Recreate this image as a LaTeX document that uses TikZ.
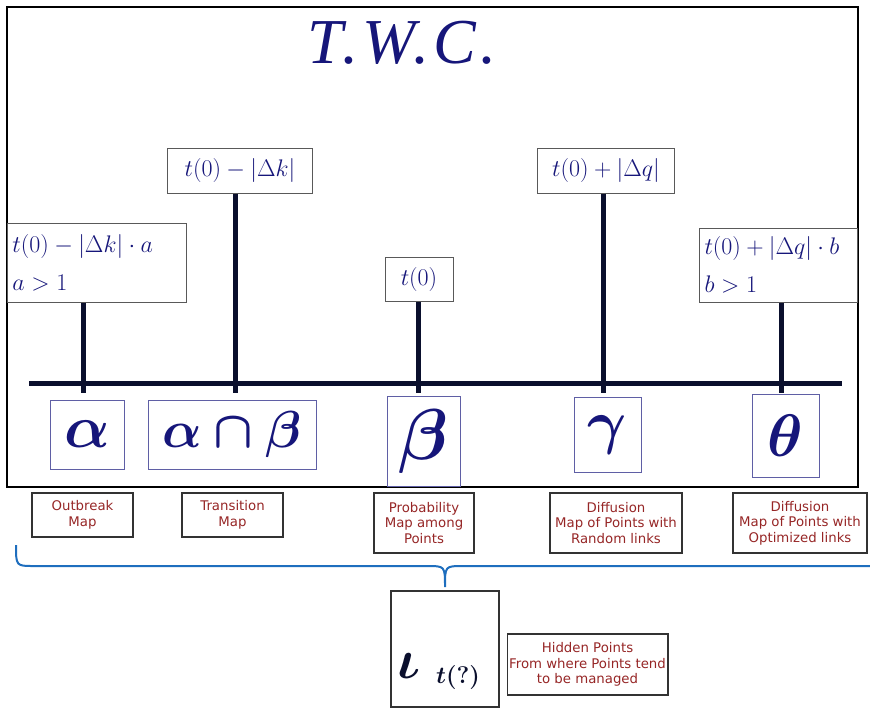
\documentclass[tikz,border=0pt]{standalone}
\usepackage{fix-cm}
\usepackage{amsmath}
\usepackage{amssymb}
\usepackage{bm}
\usepackage{xcolor}
\usepackage{fontspec}
\newfontfamily\labelfont{DejaVu Sans}
\newfontfamily\titlefont[LetterSpace=6]{Liberation Serif}

\definecolor{twcblue}{RGB}{22,22,122}
\definecolor{barblue}{RGB}{10,15,45}
\definecolor{mapred}{RGB}{150,38,38}
\definecolor{braceblue}{RGB}{30,110,190}
\definecolor{greekedge}{RGB}{95,95,165}

\tikzset{
  outerframe/.style={draw=black, line width=1.5pt},
  valbox/.style={draw=black!65, line width=1pt, fill=white, inner sep=3pt, text=twcblue, font=\fontsize{24}{30}\selectfont},
  letterbox/.style={draw=greekedge, line width=1pt, inner sep=0pt, text=twcblue},
  mapbox/.style={draw=black!80, line width=1.3pt, align=center, inner sep=2pt, text=mapred, font=\labelfont\fontsize{13.3}{15.5}\selectfont},
  stem/.style={draw=barblue, line width=5pt},
  brace/.style={draw=braceblue, line width=2pt},
}

\begin{document}
\begin{tikzpicture}[x=1pt,y=-1pt]
\useasboundingbox (0,0) rectangle (870,710);

%outer frame and title
\draw [outerframe] (7,7) rectangle (858,487);
\node [text=twcblue, font=\titlefont\itshape\fontsize{64}{64}\selectfont] (title) at (402,43) {T.W.C.};

%time values
\node [valbox, minimum width=145, minimum height=45] (dk) at (240,170.5) {$t(0)-\left|\Delta k\right|$};
\node [valbox, minimum width=137, minimum height=45] (dq) at (606,170.5) {$t(0)+\left|\Delta q\right|$};
\node [valbox, minimum width=68, minimum height=44] (tz) at (419,279) {$t(0)$};
\node [valbox, text width=168, inner sep=5.5pt, minimum height=79, align=left] (dka) at (96.5,262.5)
  {$t(0)-\left|\Delta k\right|\cdot a$\\[8pt]$a>1$};
\node [valbox, text width=147, inner sep=5.5pt, minimum height=74, align=left] (dqb) at (778,265)
  {$t(0)+\left|\Delta q\right|\cdot b$\\[8pt]$b>1$};

%time axis
\coordinate (barL) at (29,383) ;
\coordinate (barR) at (842,383) ;
\coordinate (pa) at (83,393) ;
\coordinate (pab) at (235,393) ;
\coordinate (pb) at (418,393) ;
\coordinate (pg) at (603,393) ;
\coordinate (pt) at (781,393) ;
\draw [stem] (barL) -- (barR) ;
\draw [stem] (pa |- dka.south) -- (pa) ;
\draw [stem] (pab |- dk.south) -- (pab) ;
\draw [stem] (pb |- tz.south) -- (pb) ;
\draw [stem] (pg |- dq.south) -- (pg) ;
\draw [stem] (pt |- dqb.south) -- (pt) ;

%states
\node [letterbox, minimum width=74, minimum height=69, font=\fontsize{60}{60}\selectfont] (alpha) at (87,434.5) {$\bm{\alpha}$};
\node [letterbox, minimum width=168, minimum height=69, font=\fontsize{52}{52}\selectfont] (ab) at (232,434.5) {$\bm{\alpha\cap\beta}$};
\node [letterbox, minimum width=73, minimum height=90, font=\fontsize{72}{72}\selectfont] (beta) at (423.5,441) {$\bm{\beta}$};
\node [letterbox, minimum width=67, minimum height=75, font=\fontsize{60}{60}\selectfont] (gamma) at (607.5,434.5) {$\bm{\gamma}$};
\node [letterbox, minimum width=67, minimum height=83, font=\fontsize{60}{60}\selectfont] (theta) at (785.5,435.5) {$\bm{\theta}$};

%map labels
\node [mapbox, minimum width=101, minimum height=44] (outb) at (82.5,515) {Outbreak\\Map};
\node [mapbox, minimum width=101, minimum height=44] (trans) at (232.5,515) {Transition\\Map};
\node [mapbox, minimum width=100, minimum height=60] (prob) at (424,523) {Probability\\Map among\\Points};
\node [mapbox, minimum width=132, minimum height=60] (rand) at (616,523) {Diffusion\\Map of Points with\\Random links};
\node [mapbox, minimum width=134, minimum height=60] (opt) at (800,523) {Diffusion\\Map of Points with\\Optimized links};

%brace
\coordinate (brL) at (16,545) ;
\coordinate (brM) at (445,587) ;
\coordinate (brR) at (870,566) ;
\draw [brace] (brL) .. controls (16,566) .. (34,566) -- (427,566)
  .. controls (445,566) .. (brM) .. controls (445,566) .. (463,566) -- (brR) ;

%hidden points
\node [mapbox, minimum width=108, minimum height=116] (hid) at (445,649) {};
\node [text=barblue, font=\fontsize{56}{56}\selectfont] (iota) at (409,666) {$\bm{\iota}$};
\node [text=barblue, font=\fontsize{24}{24}\selectfont] (tq) at (458,678) {$\bm{t}${\bfseries(?)}};
\node [mapbox, minimum width=159, minimum height=61] (hidtxt) at (587.5,664.5) {Hidden Points\\From where Points tend\\to be managed};

\end{tikzpicture}
\end{document}
